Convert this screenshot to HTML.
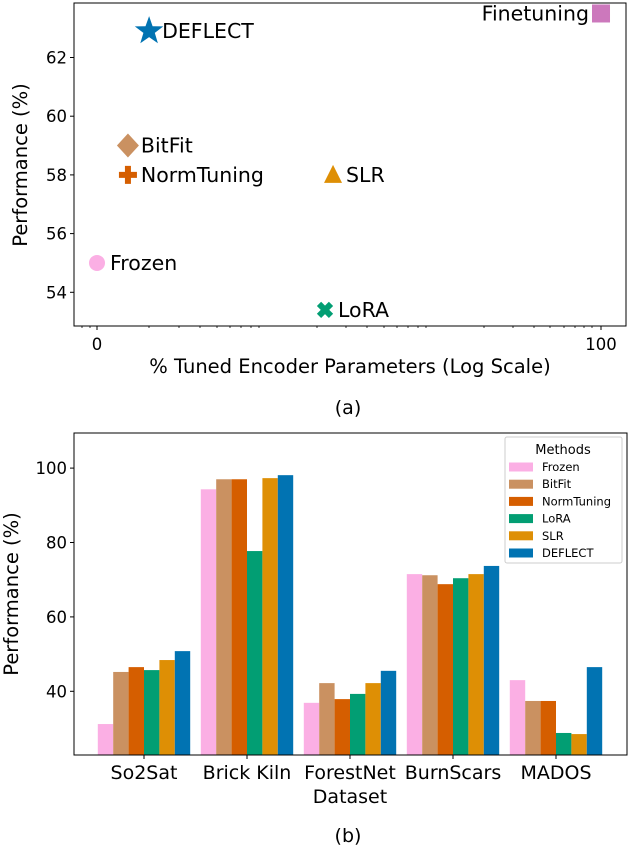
<!DOCTYPE html>
<html><head><meta charset="utf-8"><style>
body{margin:0;background:#fff;}
svg{display:block;font-family:"DejaVu Sans","Liberation Sans",sans-serif;}
</style></head><body>
<svg id="c" width="628" height="848" viewBox="0 0 628 848" xmlns="http://www.w3.org/2000/svg"></svg>
<script>
// ---- Chart (a) data ----
const methodsA = ["Frozen","BitFit","NormTuning","DEFLECT","SLR","LoRA","Finetuning"];
const paramsA = [0, 0.0076, 0.0076, 0.0159, 0.737, 0.635, 100];
const perfA = [55.0, 59.0, 58.0, 62.9, 58.0, 53.4, 63.5];
const yTicksA = [54,56,58,60,62];
const xTickLabelsA = ["0","100"];
const xTickValsA = [0,100];
// ---- Chart (b) data ----
const datasets = ["So2Sat","Brick Kiln","ForestNet","BurnScars","MADOS"];
const seriesNames = ["Frozen","BitFit","NormTuning","LoRA","SLR","DEFLECT"];
const frozenVals = [31.2, 94.3, 36.9, 71.5, 43.0];
const bitfitVals = [45.2, 97.0, 42.2, 71.2, 37.4];
const normVals = [46.5, 97.0, 37.9, 68.8, 37.4];
const loraVals = [45.7, 77.7, 39.3, 70.4, 28.8];
const slrVals = [48.4, 97.3, 42.2, 71.5, 28.5];
const deflectVals = [50.8, 98.1, 45.5, 73.7, 46.5];
const yTicksB = [40,60,80,100];

const C = {Frozen:"#fbafe4",BitFit:"#ca9161",NormTuning:"#d55e00",LoRA:"#029e73",SLR:"#de8f05",DEFLECT:"#0173b2",Finetuning:"#cc78bc"};
const svg = document.getElementById('c');
const NS = "http://www.w3.org/2000/svg";
function mk(tag, attrs, parent){const e=document.createElementNS(NS,tag);for(const k in attrs)e.setAttribute(k,attrs[k]);(parent||svg).appendChild(e);return e;}
function txt(s, attrs, parent){const e=mk('text',attrs,parent);e.textContent=s;return e;}

// ===== Chart (a) =====
const gA = mk('g',{});


const ax = {l:74,r:626,t:3,b:326};
const xA = v => 97 + 126*Math.log10(1+v/0.01);
const yA = v => 57.5 + (62 - v)*29.35;
const frameA = mk('rect',{x:ax.l,y:ax.t,width:ax.r-ax.l,height:ax.b-ax.t,fill:"none",stroke:"#000","stroke-width":1},gA);


yTicksA.forEach(t=>{const y=yA(t);
 mk('line',{x1:ax.l-4,x2:ax.l,y1:y,y2:y,stroke:"#000"},gA);
 const l=txt(String(t),{x:ax.l-7,y:y+6,"text-anchor":"end","font-size":16.5},gA);
 
 });
const minorA=[82,90,149,179,200,217,230,241,251,259,317,346,367,384,397,408,418,426,484,513,534,550,564,575,584,592];
minorA.forEach(x=>mk('line',{x1:x,x2:x,y1:ax.b,y2:ax.b+2,stroke:"#000","stroke-width":0.8},gA));
xTickValsA.forEach((v,i)=>{const x=xA(v);
 mk('line',{x1:x,x2:x,y1:ax.b,y2:ax.b+4,stroke:"#000"},gA);
 const l=txt(xTickLabelsA[i],{x:x,y:ax.b+24,"text-anchor":"middle","font-size":16.5},gA);
 
 });
const xlA=txt("% Tuned Encoder Parameters (Log Scale)",{x:350,y:373,"text-anchor":"middle","font-size":19.5},gA);


const ylA=txt("Performance (%)",{x:0,y:0,"text-anchor":"middle","font-size":19.5,transform:"translate(27,165) rotate(-90)"},gA);


function marker(name,x,y,g){const c=C[name];let e;
 if(name==="Frozen") e=mk('circle',{cx:x,cy:y,r:8,fill:c},g);
 else if(name==="BitFit") e=mk('polygon',{points:`${x},${y-12} ${x+11},${y} ${x},${y+12} ${x-11},${y}`,fill:c},g);
 else if(name==="NormTuning") e=mk('path',{d:`M${x-3},${y-9}h6v6h6v6h-6v6h-6v-6h-6v-6h6z`,fill:c},g);
 else if(name==="DEFLECT"){let p=[];for(let i=0;i<10;i++){const a=-Math.PI/2+i*Math.PI/5,r=i%2?6:15;p.push((x+r*Math.cos(a)).toFixed(1)+","+(y+r*Math.sin(a)).toFixed(1));}e=mk('polygon',{points:p.join(' '),fill:c},g);}
 else if(name==="SLR") e=mk('polygon',{points:`${x},${y-10} ${x+9},${y+8} ${x-9},${y+8}`,fill:c},g);
 else if(name==="LoRA") e=mk('path',{d:`M${x-6},${y-6}L${x+6},${y+6}M${x+6},${y-6}L${x-6},${y+6}`,stroke:c,"stroke-width":6},g);
 else e=mk('rect',{x:x-9,y:y-9,width:18,height:18,fill:c},g);
 return e;}
methodsA.forEach((m,i)=>{const x=xA(paramsA[i]),y=yA(perfA[i]);
 const e=marker(m,x,y,gA);
 
 
 let lbl;
 if(m==="Finetuning") lbl=txt(m,{x:x-12,y:y+7,"text-anchor":"end","font-size":20.5},gA);
 else lbl=txt(m,{x:x+13,y:y+7,"font-size":20.5},gA);
 
 });
const capA=txt("(a)",{x:348,y:414,"text-anchor":"middle","font-size":19});



// ===== Chart (b) =====
const gB = mk('g',{});


const bx={l:74,r:627,t:433,b:755};
const yB = v => 691.3 - (v-40)*3.72;
const xB = i => 144 + i*103;
const barW = 15.4;
const allVals=[frozenVals,bitfitVals,normVals,loraVals,slrVals,deflectVals];
datasets.forEach((d,i)=>{
 seriesNames.forEach((s,j)=>{const v=allVals[j][i];const x=xB(i)+(j-3)*barW;const y=yB(v);
  const r=mk('rect',{x:x,y:y,width:barW,height:bx.b-y,fill:C[s]},gB);
  
  });
 mk('line',{x1:xB(i),x2:xB(i),y1:bx.b,y2:bx.b+4,stroke:"#000"},gB);
 const l=txt(d,{x:xB(i),y:bx.b+24,"text-anchor":"middle","font-size":19},gB);
 
 });
const frameB=mk('rect',{x:bx.l,y:bx.t,width:bx.r-bx.l,height:bx.b-bx.t,fill:"none",stroke:"#000","stroke-width":1},gB);


yTicksB.forEach(t=>{const y=yB(t);
 mk('line',{x1:bx.l-4,x2:bx.l,y1:y,y2:y,stroke:"#000"},gB);
 const l=txt(String(t),{x:bx.l-7,y:y+6,"text-anchor":"end","font-size":16.5},gB);
 
 });
const xlB=txt("Dataset",{x:350,y:803,"text-anchor":"middle","font-size":19},gB);


const ylB=txt("Performance (%)",{x:0,y:0,"text-anchor":"middle","font-size":19.5,transform:"translate(18,594) rotate(-90)"},gB);


// legend
const lg=mk('g',{},gB);


mk('rect',{x:505,y:437,width:117,height:126,fill:"#fff",stroke:"#ccc",rx:2},lg);
txt("Methods",{x:563,y:454,"text-anchor":"middle","font-size":13},lg);
seriesNames.forEach((s,j)=>{const y=467+j*17.2;
 const e=mk('g',{},lg);
 
 
 mk('rect',{x:509,y:y-4.5,width:24,height:9,fill:C[s]},e);
 txt(s,{x:542,y:y+4,"font-size":11.5},e);});
const capB=txt("(b)",{x:348,y:842,"text-anchor":"middle","font-size":19});


</script>
</body></html>
